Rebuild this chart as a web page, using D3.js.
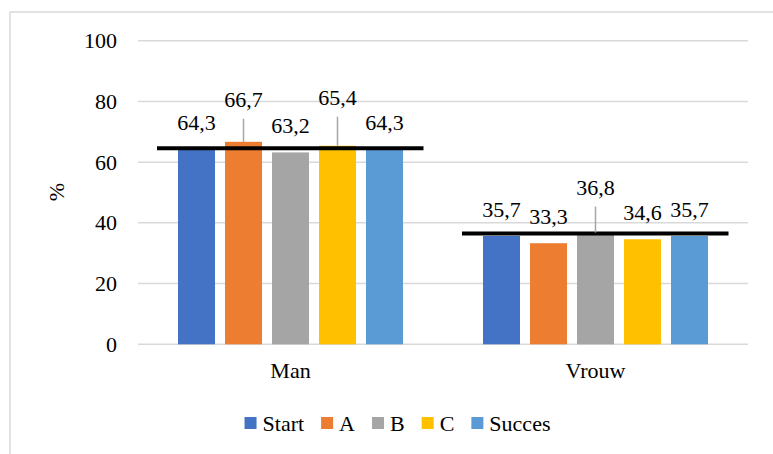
<!DOCTYPE html>
<html>
<head>
<meta charset="utf-8">
<script src="https://cdn.jsdelivr.net/npm/d3@7"></script>
<style>
  svg text { font-family: "Liberation Serif", "Times New Roman", Tinos, serif !important; }
</style>
</head>
<body style="margin:0;padding:0;background:#fff">
<svg id="chart" width="773" height="454" style="display:block"></svg>
<script>
// ---- data ----
const categories = ["Man", "Vrouw"];
const seriesNames = ["Start", "A", "B", "C", "Succes"];
const manValues = [64.3, 66.7, 63.2, 65.4, 64.3];
const vrouwValues = [35.7, 33.3, 36.8, 34.6, 35.7];
const refLineValues = [64.6, 36.5];
const yTicks = [0, 20, 40, 60, 80, 100];
const colors = ["#4472C4", "#ED7D31", "#A5A5A5", "#FFC000", "#5B9BD5"];

const valuesByCat = { "Man": manValues, "Vrouw": vrouwValues };

// label lifts (px) for labels moved above with leader lines
const labelLift = { "Man|A": 16, "Man|C": 22, "Vrouw|B": 19 };

const fontSize = 22;
const svg = d3.select("#chart");
function styleText(sel) {
  sel.attr("font-size", fontSize).attr("fill", "#000")
     .attr("style", "font-family:'Liberation Serif','Times New Roman',serif;font-size:22px");
}

// frame
svg.append("rect")
  .attr("x", 10).attr("y", 12)
  .attr("width", 800).attr("height", 500)
  .attr("fill", "none").attr("stroke", "#d9d9d9").attr("stroke-width", 1.5);

const plot = { left: 138, right: 748, top: 40.7, bottom: 344.3 };

const y = d3.scaleLinear().domain([0, 100]).range([plot.bottom, plot.top]);
const x0 = d3.scaleBand().domain(categories).range([plot.left, plot.right]).padding(0);
const x1 = d3.scaleBand().domain(seriesNames).range([-117.5, 117.5])
  .paddingInner(10 / 47).paddingOuter(5 / 47);

// gridlines
svg.append("g").selectAll("line").data(yTicks).join("line")
  .attr("x1", plot.left).attr("x2", plot.right)
  .attr("y1", d => y(d)).attr("y2", d => y(d))
  .attr("stroke", "#d9d9d9").attr("stroke-width", 1.5);

// y tick labels
svg.append("g").selectAll("text").data(yTicks).join("text")
  .attr("x", 117).attr("y", d => y(d)).attr("dy", "0.34em")
  .attr("text-anchor", "end")
  .call(styleText)
  .text(d => d);

// y title
svg.append("text")
  .attr("transform", "translate(64,192) rotate(-90)")
  .attr("text-anchor", "middle")
  .call(styleText)
  .text("%");

// x category labels
svg.append("g").selectAll("text").data(categories).join("text")
  .attr("x", c => x0(c) + x0.bandwidth() / 2).attr("y", 378)
  .attr("text-anchor", "middle")
  .call(styleText)
  .text(c => c);

// bars
const groups = svg.append("g").selectAll("g").data(categories).join("g")
  .attr("transform", c => `translate(${x0(c) + x0.bandwidth() / 2},0)`);

groups.selectAll("rect")
  .data(c => seriesNames.map((s, i) => ({ cat: c, s, i, v: valuesByCat[c][i] })))
  .join("rect")
  .attr("x", d => x1(d.s))
  .attr("width", x1.bandwidth())
  .attr("y", d => y(d.v))
  .attr("height", d => y(0) - y(d.v))
  .attr("fill", d => colors[d.i]);

// reference lines
groups.append("line")
  .attr("x1", -133.5).attr("x2", 133)
  .attr("y1", (c, i) => y(refLineValues[i]))
  .attr("y2", (c, i) => y(refLineValues[i]))
  .attr("stroke", "#000").attr("stroke-width", 4);

// labels
const fmt = v => v.toFixed(1).replace(".", ",");
groups.each(function (c) {
  const g = d3.select(this);
  seriesNames.forEach((s, i) => {
    const v = valuesByCat[c][i];
    const cx = x1(s) + x1.bandwidth() / 2;
    const lift = labelLift[c + "|" + s] || 0;
    const base = y(v) - 19 - lift;
    if (lift) {
      g.append("line")
        .attr("x1", cx).attr("x2", cx)
        .attr("y1", base + 12).attr("y2", y(v))
        .attr("stroke", "#a6a6a6").attr("stroke-width", 1.5);
    }
    g.append("text")
      .attr("x", cx).attr("y", base)
      .attr("text-anchor", "middle")
      .call(styleText)
      .text(fmt(v));
  });
});

// legend
const legend = svg.append("g");
let lx = 0;
seriesNames.forEach((s, i) => {
  const it = legend.append("g");
  it.append("rect").attr("x", 0).attr("y", 417).attr("width", 12).attr("height", 12).attr("fill", colors[i]);
  const t = it.append("text").attr("x", 18).attr("y", 431).call(styleText).text(s);
  const w = t.node().getComputedTextLength();
  it.attr("transform", `translate(${lx},0)`);
  lx += 18 + w + 17;
});
const total = lx - 17;
legend.attr("transform", `translate(${397.5 - total / 2},0)`);
</script>
</body>
</html>
